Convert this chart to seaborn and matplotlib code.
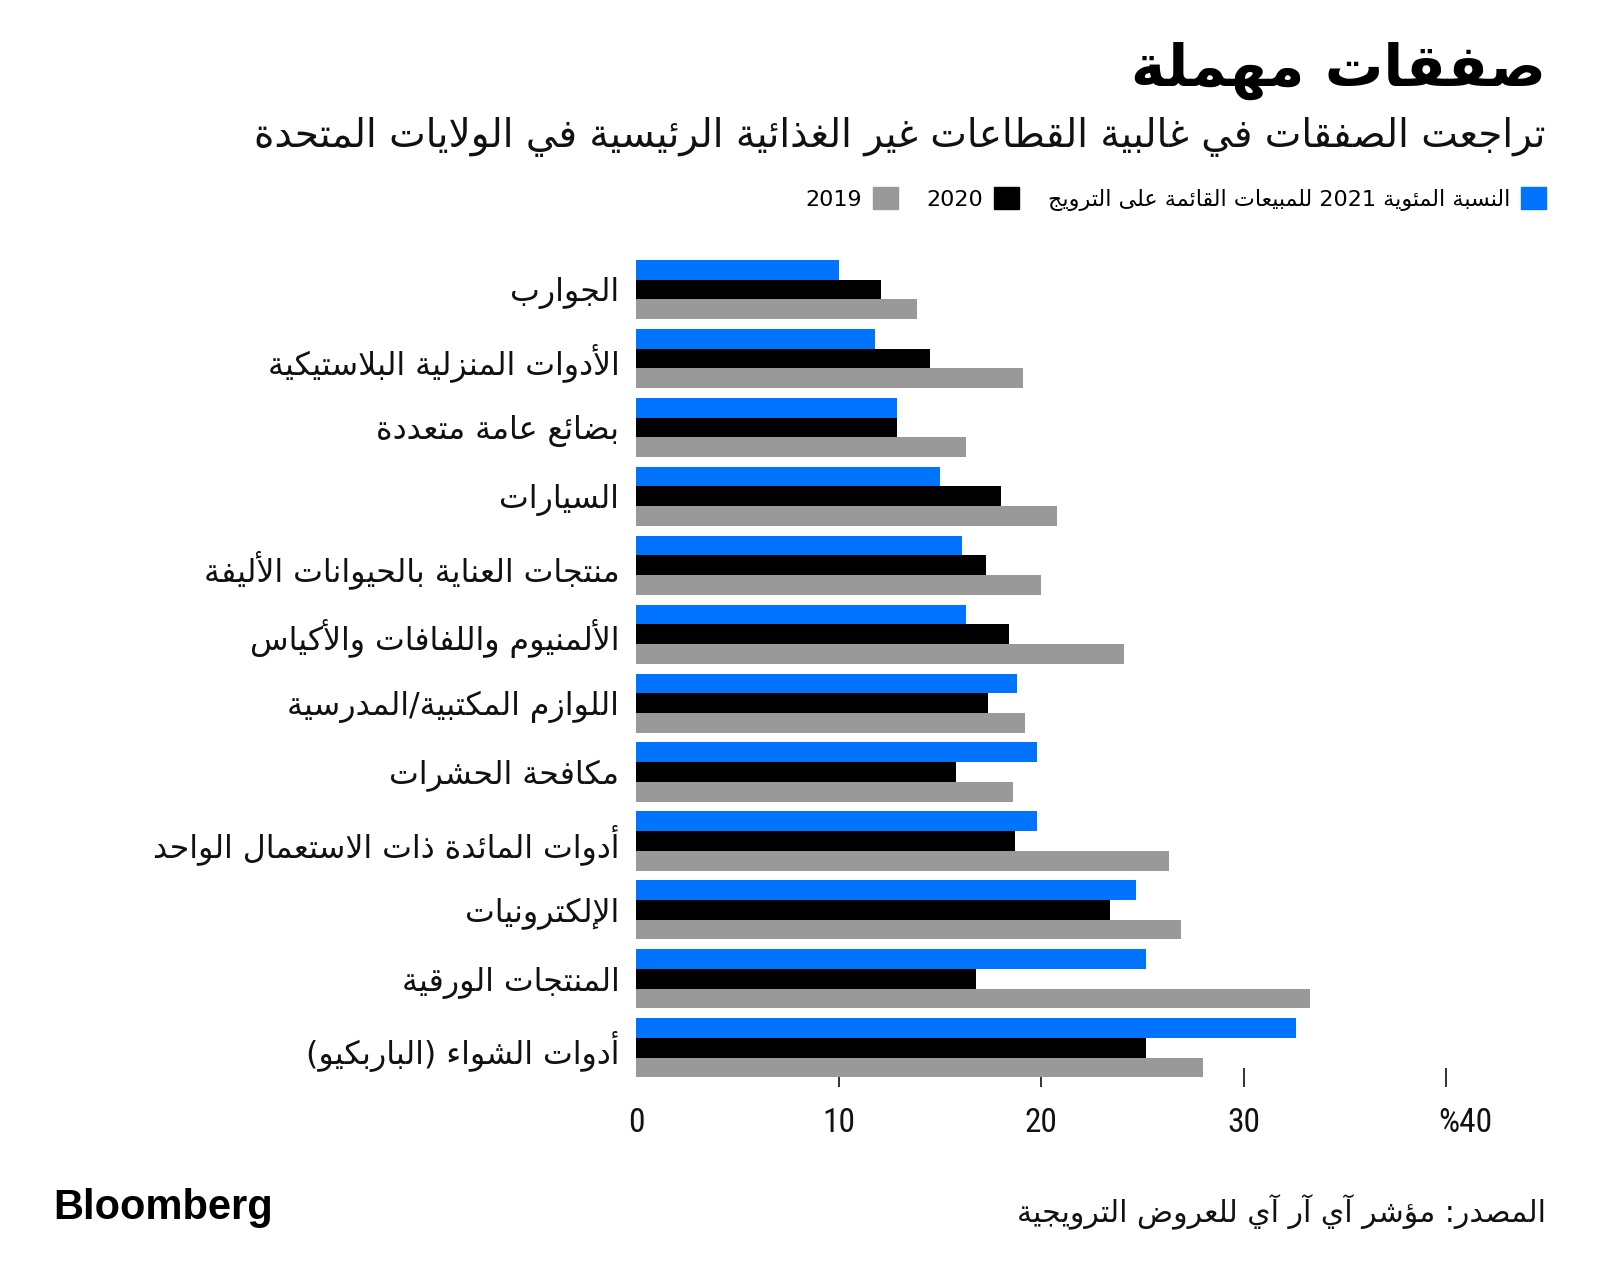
import re
import numpy as np
import pandas as pd
import matplotlib
matplotlib.use('Agg')
import matplotlib.pyplot as plt
from matplotlib.patches import Patch
from matplotlib import font_manager
from matplotlib.transforms import ScaledTranslation
import seaborn as sns

sns.set_style('white')
plt.rcParams['font.family'] = ['DejaVu Sans']
plt.rcParams['text.color'] = 'black'

# data (percent of sales sold on promotion)
categories = ['الجوارب', 'الأدوات المنزلية البلاستيكية', 'بضائع عامة متعددة', 'السيارات',
              'منتجات العناية بالحيوانات الأليفة', 'الألمنيوم واللفافات والأكياس',
              'اللوازم المكتبية/المدرسية', 'مكافحة الحشرات',
              'أدوات المائدة ذات الاستعمال الواحد', 'الإلكترونيات', 'المنتجات الورقية',
              'أدوات الشواء (الباربكيو)']
share_2021 = [10.0, 11.8, 12.9, 15.0, 16.1, 16.3, 18.8, 19.8, 19.8, 24.7, 25.2, 32.6]
share_2020 = [12.1, 14.5, 12.9, 18.0, 17.3, 18.4, 17.4, 15.8, 18.7, 23.4, 16.8, 25.2]
share_2019 = [13.9, 19.1, 16.3, 20.8, 20.0, 24.1, 19.2, 18.6, 26.3, 26.9, 33.3, 28.0]
series = ['2021', '2020', '2019']
colors = ['#0073ff', '#000000', '#999999']
x_ticks = [0, 10, 20, 30, 40]
x_tick_labels = ['0', '10', '20', '30', '%40']

title = 'صفقات مهملة'
subtitle = 'تراجعت الصفقات في غالبية القطاعات غير الغذائية الرئيسية في الولايات المتحدة'
legend_2021 = 'النسبة المئوية 2021 للمبيعات القائمة على الترويج'
source = 'المصدر: مؤشر آي آر آي للعروض الترويجية'

# --- minimal arabic shaping (matplotlib draws glyphs one by one, left to right) ---
_letters = 'ءآأؤإئابةتثجحخدذرزسشصضطظعغفقكلمنهوىي'
_nforms = [1, 2, 2, 2, 2, 4, 2, 4, 2, 4, 4, 4, 4, 4, 2, 2, 2, 2,
           4, 4, 4, 4, 4, 4, 4, 4, 4, 4, 4, 4, 4, 4, 4, 2, 2, 4]
FORMS = {}
code = 0xFE80
for ch, n in zip(_letters, _nforms):
    FORMS[ch] = [chr(code + i) for i in range(n)]
    code += n
LAM_ALEF = {'آ': 0xFEF5, 'أ': 0xFEF7, 'إ': 0xFEF9, 'ا': 0xFEFB}
MIRROR = {'(': ')', ')': '('}


def shape(text):
    units = []
    i = 0
    while i < len(text):
        ch = text[i]
        if ch == 'ل' and i + 1 < len(text) and text[i + 1] in LAM_ALEF:
            c = LAM_ALEF[text[i + 1]]
            units.append([chr(c), chr(c + 1)])
            i += 2
        else:
            units.append(FORMS.get(ch, ch))
            i += 1
    out = []
    for k, u in enumerate(units):
        if isinstance(u, str):
            out.append(u)
            continue
        prev = units[k - 1] if k > 0 else None
        nxt = units[k + 1] if k + 1 < len(units) else None
        jp = isinstance(prev, list) and len(prev) == 4 and len(u) > 1
        jn = len(u) == 4 and isinstance(nxt, list) and len(nxt) > 1
        out.append(u[{(False, False): 0, (True, False): 1, (False, True): 2, (True, True): 3}[(jp, jn)]])
    return ''.join(out)


def ar(text):
    parts = re.findall(r'[0-9]+|.', shape(text))
    return ''.join(MIRROR.get(p, p) for p in reversed(parts))


# narrow face for the axis numbers if one is installed
installed = {f.name for f in font_manager.fontManager.ttflist}
num_font = next((f for f in ['Liberation Sans Narrow', 'DejaVu Sans Condensed', 'Roboto Condensed']
                 if f in installed), 'Liberation Sans')
num_size = 24 if 'Narrow' in num_font or 'Condensed' in num_font else 23

df = pd.DataFrame({
    'category': [ar(c) for c in categories] * 3,
    'year': np.repeat(series, len(categories)),
    'value': share_2021 + share_2020 + share_2019,
})

fig = plt.figure(figsize=(16, 12.88), dpi=100)
ax = fig.add_axes([0.3975, 0.156, 0.50625, 0.646])
sns.barplot(data=df, y='category', x='value', hue='year', hue_order=series,
            palette=colors, saturation=1, width=0.857, gap=0, legend=False, ax=ax)
for bar in ax.patches:
    bar.set_linewidth(0)

ax.set_xlim(0, 40)
ax.set_ylim(len(categories) - 0.43, -0.5)
sns.despine(ax=ax, left=True, bottom=True)
ax.set_xlabel('')
ax.set_ylabel('')
ax.set_axisbelow(True)
ax.set_xticks(x_ticks, x_tick_labels)
ax.tick_params(axis='x', bottom=True, direction='in', length=14, width=1.3, color='#222222',
               pad=14, labelsize=num_size, labelcolor='#111111')
ax.xaxis.get_major_ticks()[0].tick1line.set_visible(False)
for lab in ax.get_xticklabels():
    lab.set_fontfamily([num_font, 'DejaVu Sans'])
last = ax.get_xticklabels()[-1]
last.set_horizontalalignment('left')
last.set_transform(last.get_transform() + ScaledTranslation(-0.08, 0, fig.dpi_scale_trans))
ax.tick_params(axis='y', left=False, length=0, pad=12, labelsize=22.8, labelcolor='#111111')
ax.grid(False)

fig.text(0.966, 0.945, ar(title), ha='right', va='center', fontsize=42, fontweight='bold')
fig.text(0.966, 0.894, ar(subtitle), ha='right', va='center', fontsize=28, color='#111111')
handles = [Patch(color=colors[2], label='2019'), Patch(color=colors[1], label='2020'),
           Patch(color=colors[0], label=ar(legend_2021))]
fig.legend(handles=handles, loc='center right', bbox_to_anchor=(0.966, 0.8455), ncol=3,
           markerfirst=False, frameon=False, fontsize=16, handlelength=1.1, handleheight=1.1,
           handletextpad=0.5, columnspacing=1.3, borderpad=0, borderaxespad=0)
fig.text(0.966, 0.059, ar(source), ha='right', va='center', fontsize=21.5, color='#111111')
fig.text(0.033, 0.062, 'Bloomberg', ha='left', va='center', fontsize=30, fontweight='bold',
         family=['Liberation Sans', 'DejaVu Sans'])

fig.savefig('out.png', dpi=100, facecolor='white')
